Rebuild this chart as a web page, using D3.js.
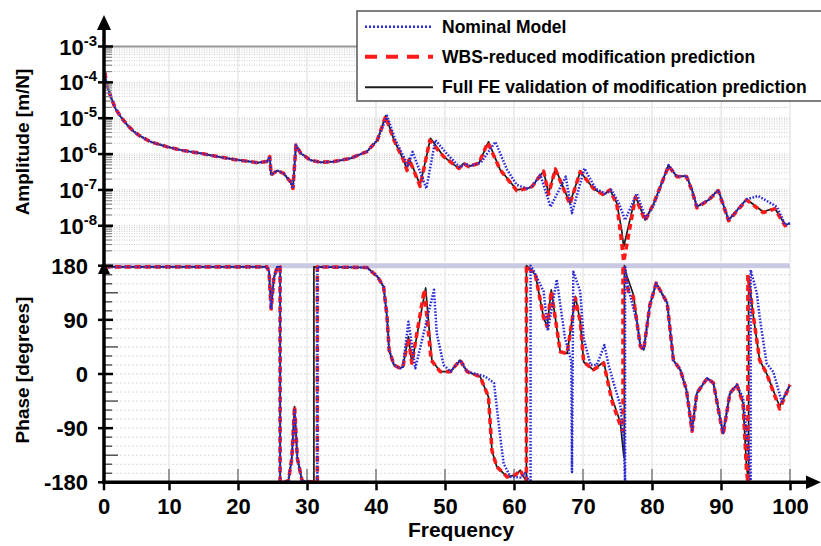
<!DOCTYPE html>
<html><head><meta charset="utf-8">
<script src="https://cdn.jsdelivr.net/npm/d3@7"></script>
<style>body{margin:0;background:#fff}svg{display:block;font-family:Arial,"Liberation Sans",sans-serif;font-weight:bold}</style>
</head><body><svg id="c" width="821" height="546"></svg>
<script>
// ---------- DATA ----------
const xTicks = [0,10,20,30,40,50,60,70,80,90,100];
const ampTickExps = [-3,-4,-5,-6,-7,-8];
const phaseTicks = [180,90,0,-90,-180];
const legendLabels = ["Nominal Model","WBS-reduced modification prediction","Full FE validation of modification prediction"];

// Amplitude, log10(m/N)
const ampFreqFE = [0.7,1.0,1.56,2.2,3.0,4.0,4.94,6.0,7.35,9.77,12,14.6,17,19.4,22.8,24.2,24.6,24.8,25.7,26.6,27.6,27.96,28.4,29.1,30.5,32.0,33.9,36.3,38.7,40.2,41.4,42.6,44.0,44.5,44.8,46.4,47.9,49.8,52.0,52.7,53.4,54.9,56.3,58.0,60.4,61.9,62.6,63.8,64.3,65.0,66.0,68.1,69.6,71.5,73.0,73.9,74.9,75.6,75.9,77.6,79.0,80.2,82.4,83.6,85.0,85.8,86.5,88.2,89.6,91.1,93.7,96.1,97.8,99.3,100];
const ampFE     = [-3.74,-4.1,-4.40,-4.72,-4.96,-5.20,-5.38,-5.52,-5.66,-5.80,-5.90,-5.98,-6.07,-6.15,-6.24,-6.21,-6.07,-6.58,-6.46,-6.54,-6.77,-6.96,-5.75,-5.98,-6.17,-6.23,-6.21,-6.12,-5.93,-5.61,-4.93,-5.61,-6.17,-6.44,-6.12,-6.86,-5.56,-6.07,-6.40,-6.26,-6.35,-6.26,-5.66,-6.44,-7.0,-6.96,-6.91,-6.60,-6.48,-7.10,-6.40,-7.37,-6.49,-6.96,-7.14,-7.0,-7.37,-8.12,-8.58,-7.18,-7.84,-7.40,-6.31,-6.63,-6.61,-7.0,-7.47,-7.28,-7.0,-7.84,-7.26,-7.61,-7.51,-7.98,-7.93];
const ampFreqWBS = [0.7,1.0,1.56,2.2,3.0,4.0,4.94,6.0,7.35,9.77,12,14.6,17,19.4,22.8,24.2,24.6,24.8,25.7,26.6,27.6,27.96,28.4,29.1,30.5,32.0,33.9,36.3,38.7,40.2,41.4,42.6,44.0,44.5,44.8,46.4,47.8,49.8,52.0,52.7,53.4,54.9,56.2,58.0,60.4,61.9,62.6,63.8,64.3,65.0,66.0,68.1,69.6,71.5,73.0,73.9,74.9,75.5,75.9,77.6,79.0,80.2,82.4,83.6,85.0,85.8,86.5,88.2,89.6,91.1,93.7,96.1,97.8,99.3,100];
const ampWBS     = [-3.72,-4.1,-4.40,-4.72,-4.96,-5.20,-5.38,-5.52,-5.66,-5.80,-5.90,-5.98,-6.07,-6.15,-6.24,-6.21,-6.07,-6.58,-6.46,-6.54,-6.77,-6.96,-5.75,-5.98,-6.17,-6.23,-6.21,-6.12,-5.93,-5.61,-4.95,-5.61,-6.17,-6.46,-6.14,-6.90,-5.62,-6.07,-6.40,-6.26,-6.35,-6.26,-5.68,-6.44,-7.02,-6.96,-6.91,-6.60,-6.48,-7.12,-6.42,-7.40,-6.49,-6.96,-7.14,-7.0,-7.40,-8.3,-9.0,-7.20,-7.86,-7.40,-6.33,-6.63,-6.63,-7.02,-7.50,-7.28,-7.02,-7.86,-7.28,-7.63,-7.53,-8.0,-7.93];
const ampFreqNom = [0.7,1.0,1.56,2.2,3.0,4.0,4.94,6.0,7.35,9.77,12,14.6,17,19.4,22.8,24.2,24.6,24.8,25.7,26.6,27.6,27.96,28.4,29.1,30.5,32.0,33.9,36.3,38.7,40.2,41.6,42.8,44.2,44.6,45.3,47.3,48.6,50.3,52.2,52.9,53.6,55.2,57.3,59.0,60.4,61.9,62.6,63.8,65.3,67.5,68.4,70.2,71.8,73.2,74.1,75.2,76.1,77.8,79.1,80.3,82.4,83.6,85.0,85.8,86.5,88.2,89.6,91.1,93.7,95.4,98.1,99.3,100];
const ampNom     = [-3.74,-4.1,-4.40,-4.72,-4.96,-5.20,-5.38,-5.52,-5.66,-5.80,-5.90,-5.98,-6.07,-6.15,-6.24,-6.21,-6.07,-6.58,-6.46,-6.54,-6.77,-6.96,-5.75,-5.98,-6.17,-6.23,-6.21,-6.12,-5.93,-5.61,-4.93,-5.61,-6.15,-6.35,-5.94,-6.96,-5.61,-6.0,-6.38,-6.26,-6.33,-6.24,-5.66,-6.44,-6.86,-6.96,-6.91,-6.58,-7.47,-6.63,-7.65,-6.40,-6.96,-7.10,-7.0,-7.37,-7.84,-7.10,-7.80,-7.40,-6.31,-6.63,-6.61,-7.0,-7.47,-7.28,-7.0,-7.84,-7.26,-7.17,-7.47,-7.98,-7.93];

// Phase, degrees
const phFreqFE = [0.7,24.2,24.5,24.8,25.2,25.7,26.1,26.1,27.3,27.8,28.2,28.6,29.3,31.0,31.0,38.7,40.2,41.1,41.6,41.9,42.6,43.5,43.9,44.7,45.2,47.2,48.1,49.3,50.8,52.2,53.2,55.1,56.3,56.8,57.5,59.0,60.2,60.9,61.4,61.8,61.8,63.1,64.3,64.8,65.4,66.2,66.7,67.7,68.9,69.6,70.1,71.5,73.0,74.2,75.4,75.9,76.0,76.0,76.3,77.3,78.3,78.8,79.7,80.6,82.2,83.1,84.1,85.0,85.8,86.5,88.0,88.9,90.3,91.3,92.3,93.2,93.7,94.0,94.0,94.7,95.6,96.6,98.5,100];
const phFE     = [178,178,170,108,160,178,178,-180,-178,-140,-54,-140,-178,-180,178,177,162,145,95,40,15,9.5,12,62,18,143,23,4,4,23,4,-4.5,-38,-127,-154,-171,-168,-160,-171,-178,180,165,93,79,140,76,37,34,129,87,20,7,20,-40,-80,-135,-140,180,165,132,48,40,115,151,118,23,7,-27,-93,-32,-7,-15,-99,-32,-18,-49,-154,-178,162,95,23,1,-54,-18];
const phFreqWBS = [0.7,24.2,24.5,24.8,25.2,25.7,26.1,26.1,27.3,27.8,28.2,28.6,29.3,31.5,31.5,38.7,40.2,41.1,41.6,41.9,42.6,43.5,43.9,44.7,45.2,47.0,48.0,49.3,50.8,52.2,53.2,55.1,56.3,56.8,57.5,59.0,60.2,60.9,61.4,61.8,61.8,63.1,64.3,64.8,65.4,66.2,66.7,67.7,68.9,69.6,70.1,71.5,73.0,74.2,75.4,75.8,75.8,76.6,77.3,78.3,78.8,79.7,80.6,82.2,83.1,84.1,85.0,85.8,86.5,88.0,88.9,90.3,91.3,92.3,93.2,93.7,93.9,93.9,94.7,95.6,96.6,98.5,100];
const phWBS     = [178,178,170,108,160,178,178,-180,-178,-140,-54,-140,-178,-180,178,177,162,145,95,40,15,9.5,12,60,18,140,23,4,4,23,4,-4.5,-38,-127,-154,-171,-168,-160,-171,-178,180,165,93,79,138,76,37,34,126,87,20,7,18,-45,-85,-95,180,137,128,46,40,115,151,118,23,7,-27,-95,-32,-7,-15,-101,-32,-18,-49,-160,-180,165,95,23,1,-58,-18];
const phFreqNom = [0.7,24.2,24.5,24.8,25.2,25.7,26.1,26.1,27.3,27.8,28.2,28.6,29.3,31.5,31.5,38.7,40.2,41.1,41.6,41.9,42.6,43.5,43.9,44.7,45.7,48.4,48.8,49.8,50.8,52.2,53.2,55.8,57.1,58.0,58.5,59.5,60.9,61.6,62.2,62.4,62.4,62.8,64.3,64.9,66.2,67.4,67.9,68.3,68.4,68.6,69.6,70.1,71.1,72.0,73.1,73.7,74.4,75.4,75.9,76.1,76.1,76.4,77.8,78.3,78.8,79.7,80.6,82.2,83.1,84.1,85.0,85.8,86.5,88.0,88.9,90.3,91.3,92.3,93.2,93.9,94.3,94.3,95.2,95.6,96.6,97.6,98.8,100];
const phNom     = [178,178,170,108,160,178,178,-180,-178,-140,-58,-140,-178,-180,178,177,162,145,95,40,15,9.5,12,87,9.5,140,68,15,4,23,4,-4,-15,-104,-149,-171,-172,-165,-178,-180,180,173,137,72,157,59,40,20,-163,170,137,59,15,15,48,15,-13,-52,-113,-180,180,150,87,48,40,115,151,118,23,7,-27,-93,-32,-7,-15,-99,-32,-18,-40,-120,-180,173,134,95,18,3,-46,-18];

// ---------- LAYOUT ----------
const svg = d3.select("#c");
const X0 = 104, X1 = 790;
const x = d3.scaleLinear().domain([0,100]).range([100,790]);
const yA = d3.scaleLog().domain([1e-9,1e-3]).range([261.6,46.5]);
const yP = d3.scaleLinear().domain([-180,180]).range([482.3,265.7]);

// grids - amplitude
const gA = svg.append("g");
const minorA = [];
for (let e=-9;e<-3;e++) for (let m=1;m<10;m++) minorA.push(m*Math.pow(10,e));
gA.selectAll("line.h").data(minorA.filter(v=>v>1e-9)).join("line")
  .attr("x1",X0).attr("x2",X1).attr("y1",d=>yA(d)).attr("y2",d=>yA(d))
  .attr("stroke","#c9c9c9").attr("stroke-width",1).attr("stroke-dasharray","1,1.5");
gA.selectAll("line.v").data(xTicks.slice(1)).join("line")
  .attr("x1",d=>x(d)).attr("x2",d=>x(d)).attr("y1",46).attr("y2",262)
  .attr("stroke","#e2e2e2").attr("stroke-width",1.2);
// grids - phase
const phaseMinor = d3.range(-165,180,15);
svg.append("g").selectAll("line").data(phaseMinor).join("line")
  .attr("x1",X0).attr("x2",X1).attr("y1",d=>yP(d)).attr("y2",d=>yP(d))
  .attr("stroke","#cfcfcf").attr("stroke-width",1).attr("stroke-dasharray","1.5,2.5");
svg.append("g").selectAll("line").data(xTicks.slice(1)).join("line")
  .attr("x1",d=>x(d)).attr("x2",d=>x(d)).attr("y1",266).attr("y2",470)
  .attr("stroke","#e4e4e4").attr("stroke-width",1.2);
// gray x tick stubs
svg.append("g").selectAll("line").data(xTicks.slice(1)).join("line")
  .attr("x1",d=>x(d)).attr("x2",d=>x(d)).attr("y1",469).attr("y2",482)
  .attr("stroke","#777").attr("stroke-width",1.5);

// top gray line, lavender 180 band
svg.append("line").attr("x1",X0).attr("x2",X1).attr("y1",yA(1e-3)).attr("y2",yA(1e-3)).attr("stroke","#9a9a9a").attr("stroke-width",2);
svg.append("line").attr("x1",X0).attr("x2",X1).attr("y1",yP(180)).attr("y2",yP(180)).attr("stroke","#c9c9e3").attr("stroke-width",5);

// ---------- CURVES ----------
function zip(fs,vs){return fs.map((f,i)=>[f,vs[i]]);}
const lineA = d3.line().x(d=>x(d[0])).y(d=>yA(Math.pow(10,d[1])));
const lineP = d3.line().x(d=>x(d[0])).y(d=>yP(d[1]));
const styles = {
  fe:{stroke:"#1c1c1c",w:1.7,dash:null},
  wbs:{stroke:"#ff1a1a",w:3.6,dash:"6,4"},
  nom:{stroke:"#2a2ad6",w:2.5,dash:"1.6,1.6"}
};
function draw(gen,data,s){
  svg.append("path").attr("d",gen(data)).attr("fill","none").attr("stroke",s.stroke)
    .attr("stroke-width",s.w).attr("stroke-dasharray",s.dash).attr("stroke-linejoin","round");
}
draw(lineA,zip(ampFreqFE,ampFE),styles.fe);
draw(lineA,zip(ampFreqWBS,ampWBS),styles.wbs);
draw(lineA,zip(ampFreqNom,ampNom),styles.nom);
draw(lineP,zip(phFreqFE,phFE),styles.fe);
draw(lineP,zip(phFreqWBS,phWBS),styles.wbs);
draw(lineP,zip(phFreqNom,phNom),styles.nom);

// ---------- AXES ----------
svg.append("g").selectAll("line").data(minorA.filter(v=>v>1e-9 && Math.abs(Math.log10(v)%1)>0.001)).join("line")
  .attr("x1",X0).attr("x2",X0+8).attr("y1",d=>yA(d)).attr("y2",d=>yA(d)).attr("stroke","#888").attr("stroke-width",1.2);
svg.append("g").selectAll("line").data(phaseMinor.filter(d=>d%90!==0)).join("line")
  .attr("x1",X0).attr("x2",d=>X0+(d%45===0?14:8)).attr("y1",d=>yP(d)).attr("y2",d=>yP(d)).attr("stroke","#555").attr("stroke-width",1.5);
svg.append("g").selectAll("line").data(ampTickExps).join("line")
  .attr("x1",X0-6).attr("x2",X0+9).attr("y1",d=>yA(Math.pow(10,d))).attr("y2",d=>yA(Math.pow(10,d))).attr("stroke","#000").attr("stroke-width",2.5);
svg.append("g").selectAll("line").data(phaseTicks).join("line")
  .attr("x1",X0-6).attr("x2",X0+9).attr("y1",d=>yP(d)).attr("y2",d=>yP(d)).attr("stroke","#000").attr("stroke-width",2.5);

const xAxis = svg.append("g").attr("transform","translate(0,482.3)")
  .call(d3.axisBottom(x).tickValues(xTicks).tickSize(8).tickPadding(8));
xAxis.select(".domain").remove();
xAxis.selectAll(".tick line").attr("stroke","#000").attr("stroke-width",2.5);
xAxis.selectAll(".tick text").attr("font-size",22).attr("font-weight","bold").attr("fill","#000")
  .attr("font-family","Arial, 'Liberation Sans', sans-serif");
xAxis.selectAll(".tick").filter(d=>d===0).attr("transform","translate(104,0)");

svg.append("line").attr("x1",X0).attr("x2",X0).attr("y1",484).attr("y2",26).attr("stroke","#000").attr("stroke-width",3.5);
svg.append("line").attr("x1",102).attr("x2",812).attr("y1",482.3).attr("y2",482.3).attr("stroke","#000").attr("stroke-width",3.5);
svg.append("path").attr("d","M104,15 L97,30 L111,30 Z").attr("fill","#000");
svg.append("path").attr("d","M104,261 L98,274 L110,274 Z").attr("fill","#000");
svg.append("path").attr("d","M821,482.3 L806,475.5 L806,489 Z").attr("fill","#000");

const al = svg.append("g").selectAll("text").data(ampTickExps).join("text")
  .attr("x",97).attr("y",d=>yA(Math.pow(10,d))+8).attr("text-anchor","end").attr("font-size",22);
al.append("tspan").text("10");
al.append("tspan").attr("font-size",15).attr("dy",-9).text(d=>String(d));
svg.append("g").selectAll("text").data(phaseTicks).join("text")
  .attr("x",88).attr("y",d=>yP(d)+8).attr("text-anchor","end").attr("font-size",22).text(d=>d);

svg.append("text").attr("transform","translate(29,142) rotate(-90)").attr("text-anchor","middle").attr("font-size",19).text("Amplitude [m/N]");
svg.append("text").attr("transform","translate(29,370) rotate(-90)").attr("text-anchor","middle").attr("font-size",19).text("Phase [degrees]");
svg.append("text").attr("x",461).attr("y",537).attr("text-anchor","middle").attr("font-size",21).text("Frequency");

// ---------- LEGEND ----------
const lg = svg.append("g");
lg.append("rect").attr("x",357).attr("y",11).attr("width",470).attr("height",90).attr("fill","#fff").attr("stroke","#555").attr("stroke-width",1.5);
const legStyles = [
  {stroke:"#2a2ad6",w:2.6,dash:"2,2"},
  {stroke:"#ff1a1a",w:4,dash:"12,9"},
  {stroke:"#1c1c1c",w:2,dash:null}
];
const rowsY = [26.7,56.7,87.3];
legendLabels.forEach((t,i)=>{
  lg.append("line").attr("x1",365).attr("x2",433).attr("y1",rowsY[i]).attr("y2",rowsY[i])
    .attr("stroke",legStyles[i].stroke).attr("stroke-width",legStyles[i].w).attr("stroke-dasharray",legStyles[i].dash);
  lg.append("text").attr("x",442).attr("y",rowsY[i]+6).attr("font-size",17.5).text(t);
});
</script></body></html>
